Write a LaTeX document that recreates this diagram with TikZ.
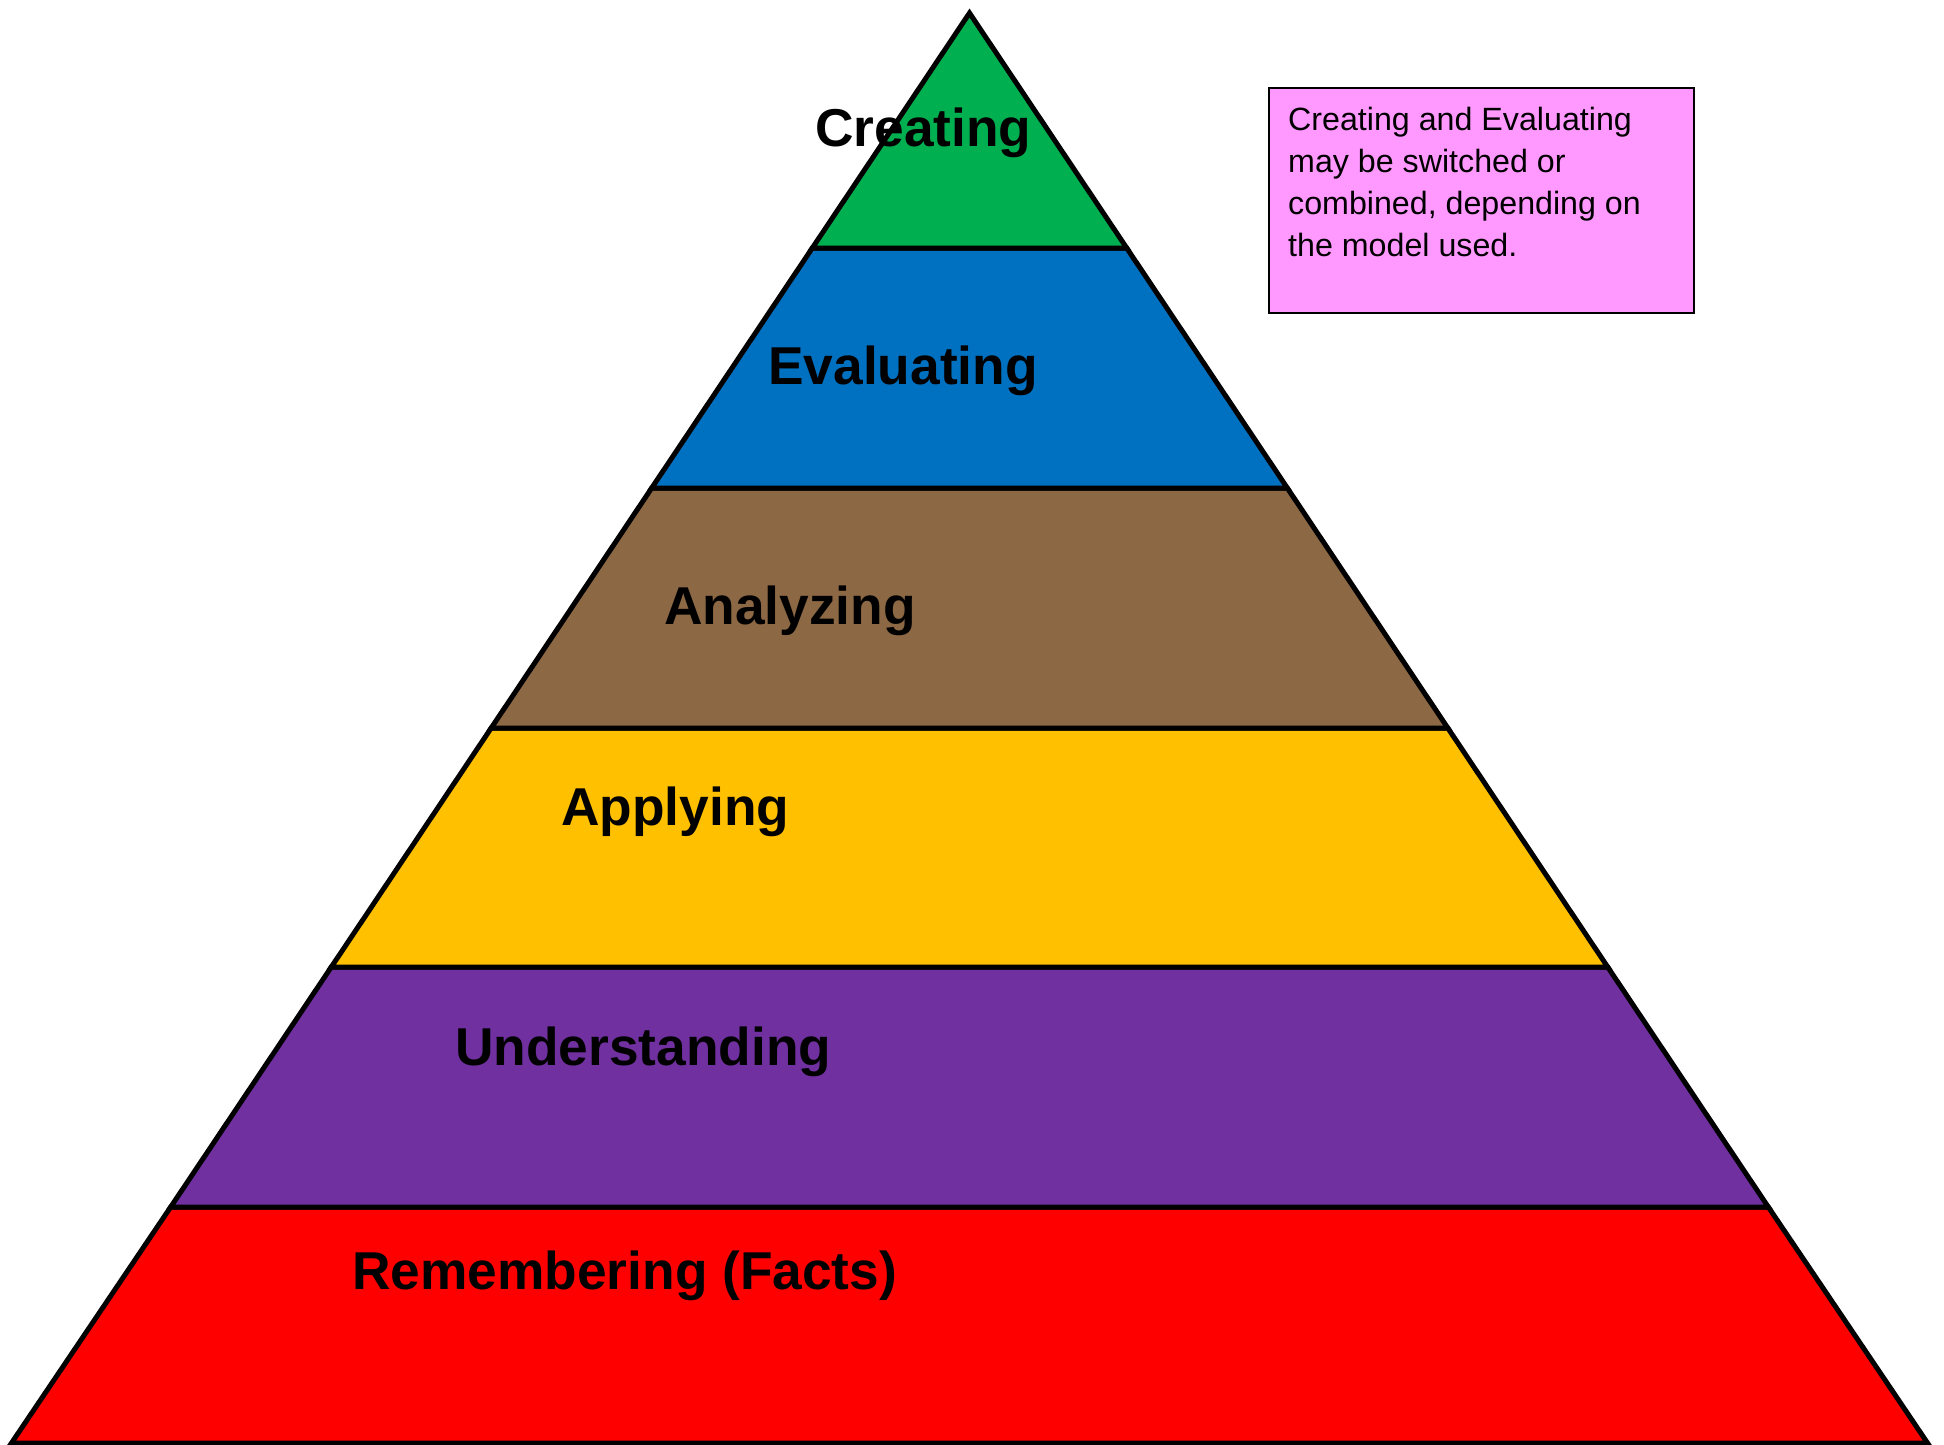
\documentclass[tikz,border=0pt]{standalone}
\usepackage{fontspec}
\setmainfont{Liberation Sans}
\definecolor{cgreen}{HTML}{00B050}
\definecolor{cblue}{HTML}{0070C0}
\definecolor{cbrown}{HTML}{8C6844}
\definecolor{cyellow}{HTML}{FFC000}
\definecolor{cpurple}{HTML}{7030A0}
\definecolor{cred}{HTML}{FF0000}
\definecolor{cpink}{HTML}{FF99FF}
\tikzset{
  band/.style={draw=black, line width=5pt, line join=miter},
  lvl/.style={anchor=base west, inner sep=0pt, font=\fontsize{53.3}{64}\selectfont\bfseries, text=black},
  notebox/.style={draw=black, line width=1.5pt, fill=cpink, anchor=north west, minimum width=425pt, minimum height=225pt, inner sep=0pt},
  notetxt/.style={anchor=north west, inner sep=0pt, align=left, font=\fontsize{32.2}{42}\selectfont}
}
\begin{document}
\begin{tikzpicture}[x=1pt,y=-1pt]
\useasboundingbox (0,0) rectangle (1944,1445);
\fill[white] (0,0) rectangle (1944,1445);
% pyramid bands
\filldraw[band, fill=cred]    (11.5,1443) -- (170.7,1207) -- (1768.3,1207) -- (1927.5,1443) -- cycle;
\filldraw[band, fill=cpurple] (170.7,1207) -- (331.3,967) -- (1607.7,967) -- (1768.3,1207) -- cycle;
\filldraw[band, fill=cyellow] (331.3,967) -- (491.2,728) -- (1447.8,728) -- (1607.7,967) -- cycle;
\filldraw[band, fill=cbrown]  (491.2,728) -- (651.7,488) -- (1287.3,488) -- (1447.8,728) -- cycle;
\filldraw[band, fill=cblue]   (651.7,488) -- (812.3,248) -- (1126.7,248) -- (1287.3,488) -- cycle;
\filldraw[band, fill=cgreen]  (812.3,248) -- (969.5,13) -- (1126.7,248) -- cycle;
% labels
\node[lvl] (creating) at (815,146) {Creating};
\node[lvl] (evaluating) at (768,384) {Evaluating};
\node[lvl] (analyzing) at (664,624) {Analyzing};
\node[lvl] (applying) at (561,825) {Applying};
\node[lvl] (understanding) at (455,1065) {Understanding};
\node[lvl] (remembering) at (352,1289) {Remembering (Facts)};
% note
\node[notebox] (note) at (1268,87) {};
\node[notetxt] (notetext) at (1288,106.5) {Creating and Evaluating\\may be switched or\\combined, depending on\\the model used.};
\end{tikzpicture}
\end{document}
